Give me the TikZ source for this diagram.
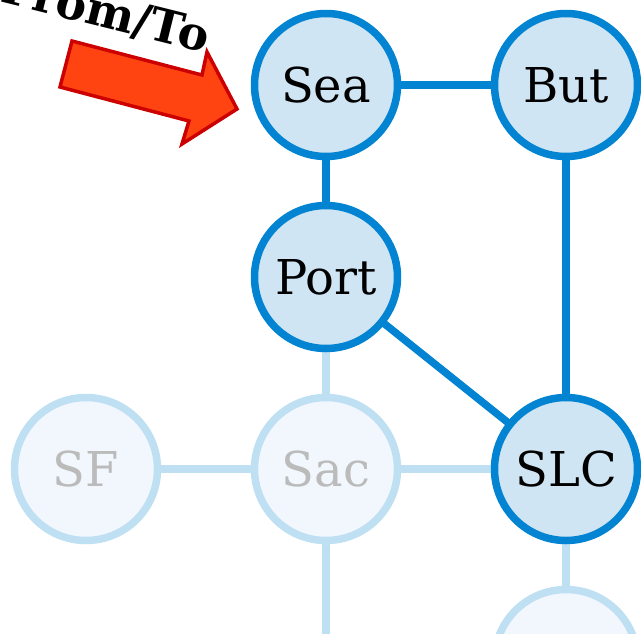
\documentclass[tikz,border=0pt]{standalone}
\usepackage{fontspec}
\setmainfont{DejaVu Serif}
\definecolor{dkblue}{RGB}{3,132,210}
\definecolor{dkfill}{RGB}{207,229,244}
\definecolor{ltblue}{RGB}{191,224,243}
\definecolor{ltfill}{RGB}{241,247,252}
\definecolor{gtext}{RGB}{187,187,187}
\definecolor{arrfill}{RGB}{255,68,17}
\definecolor{arrline}{RGB}{204,0,0}
\begin{document}
\begin{tikzpicture}[x=1pt,y=-1pt,
  city/.style={circle,draw=dkblue,fill=dkfill,line width=7.5pt,minimum size=143pt,inner sep=0pt,
    font=\fontsize{48}{56}\selectfont,text=black},
  faded/.style={circle,draw=ltblue,fill=ltfill,line width=7.5pt,minimum size=143pt,inner sep=0pt,
    font=\fontsize{48}{56}\selectfont,text=gtext},
  road/.style={dkblue,line width=7.5pt},
  ltroad/.style={ltblue,line width=7.5pt}]
\useasboundingbox (0,0) rectangle (641,633);
% node positions
\coordinate (pSea) at (326,85);
\coordinate (pBut) at (566,85);
\coordinate (pPort) at (326,277);
\coordinate (pSF) at (86,469);
\coordinate (pSac) at (326,469);
\coordinate (pSLC) at (566,469);
\coordinate (pBot) at (566,661);
\coordinate (down) at (326,700);
% edges
\draw[ltroad] (pSac) -- (down);
\draw[ltroad] (pSF) -- (pSac);
\draw[ltroad] (pSac) -- (pSLC);
\draw[ltroad] (pPort) -- (pSac);
\draw[ltroad] (pSLC) -- (pBot);
\draw[road] (pSea) -- (pBut);
\draw[road] (pSea) -- (pPort);
\draw[road] (pBut) -- (pSLC);
\draw[road] (pPort) -- (pSLC);
% nodes
\node[faded] (SF) at (pSF) {SF};
\node[faded] (Sac) at (pSac) {Sac};
\node[faded] (Bot) at (pBot) {};
\node[city] (Sea) at (pSea) {Sea};
\node[city] (But) at (pBut) {But};
\node[city] (Port) at (pPort) {Port};
\node[city] (SLC) at (pSLC) {SLC};
% arrow
\draw[fill=arrfill,draw=arrline,line width=3.5pt,line join=miter]
  (72,41) -- (202,75) -- (207,52) -- (237,109) -- (182,144) -- (189,121) -- (60,87) -- cycle;
\node[rotate=-14,anchor=base east,font=\fontsize{46}{54}\selectfont\bfseries,inner sep=0pt] (ft) at (205,53) {From/To};
\end{tikzpicture}
\end{document}
